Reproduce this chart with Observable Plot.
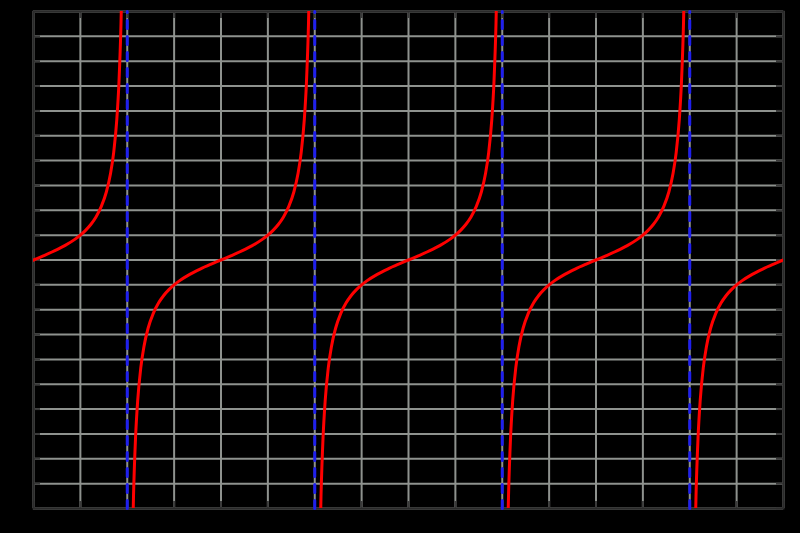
<!DOCTYPE html>
<html>
<head>
<meta charset="utf-8">
<script src="https://cdn.jsdelivr.net/npm/d3@7"></script>
<script src="https://cdn.jsdelivr.net/npm/@observablehq/plot@0.6"></script>
<style>
  html, body { margin: 0; padding: 0; background: #000; }
  #chart svg { display: block; }
</style>
</head>
<body>
<div id="chart"></div>
<script>
// x in degrees, y = tangent value
const xGrid = [0, 45, 90, 135, 180, 225, 270, 315, 360, 405, 450, 495, 540, 585, 630, 675, 720];
const yGrid = [-10, -9, -8, -7, -6, -5, -4, -3, -2, -1, 0, 1, 2, 3, 4, 5, 6, 7, 8, 9, 10];
const asymptotes = [90, 270, 450, 630];
const branchCenters = [0, 180, 360, 540, 720];
// half-branch samples (offset from branch centre in degrees, value)
const offsets = [0, 10, 20, 30, 40, 45, 50, 55, 60, 65, 70, 74, 77, 80, 82, 84, 85, 86, 87, 88];
const values  = [0, 0.176, 0.364, 0.577, 0.839, 1, 1.192, 1.428, 1.732, 2.145, 2.747, 3.487, 4.331, 5.671, 7.115, 9.514, 11.43, 14.30, 19.08, 28.64];

const curve = [];
branchCenters.forEach((c, b) => {
  for (let i = offsets.length - 1; i > 0; i--) curve.push({x: c - offsets[i], y: -values[i], b});
  for (let i = 0; i < offsets.length; i++) curve.push({x: c + offsets[i], y: values[i], b});
});
const asym = asymptotes.flatMap(a => [{x: a, y: -10, a}, {x: a, y: 10, a}]);

const frameH = 533 - 11 - 25;
const frameW = 800 - 33 - 17;
const gridColor = "#8e928e";
const tickColor = "#3a3a3a";

const chart = Plot.plot({
  width: 800,
  height: 533,
  marginLeft: 33,
  marginRight: 17,
  marginTop: 11,
  marginBottom: 25,
  style: {background: "#000"},
  x: {domain: [0, 720], axis: null},
  y: {domain: [-10, 10], axis: null},
  marks: [
    Plot.ruleX(xGrid, {stroke: gridColor, strokeWidth: 2}),
    Plot.ruleY(yGrid, {stroke: gridColor, strokeWidth: 2}),
    Plot.ruleX(xGrid, {stroke: tickColor, strokeWidth: 2, insetTop: frameH - 7}),
    Plot.ruleX(xGrid, {stroke: tickColor, strokeWidth: 2, insetBottom: frameH - 7}),
    Plot.ruleY(yGrid, {stroke: tickColor, strokeWidth: 2, insetRight: frameW - 7}),
    Plot.ruleY(yGrid, {stroke: tickColor, strokeWidth: 2, insetLeft: frameW - 7}),
    Plot.frame({stroke: "#2a2a2a", strokeWidth: 2}),
    Plot.line(curve, {x: "x", y: "y", z: "b", stroke: "#ff0000", strokeWidth: 3, curve: "monotone-x", clip: true}),
    Plot.line(asym, {x: "x", y: "y", z: "a", stroke: "#1f1fee", strokeWidth: 3, strokeDasharray: "8,8"})
  ]
});
document.getElementById("chart").appendChild(chart);
</script>
</body>
</html>
